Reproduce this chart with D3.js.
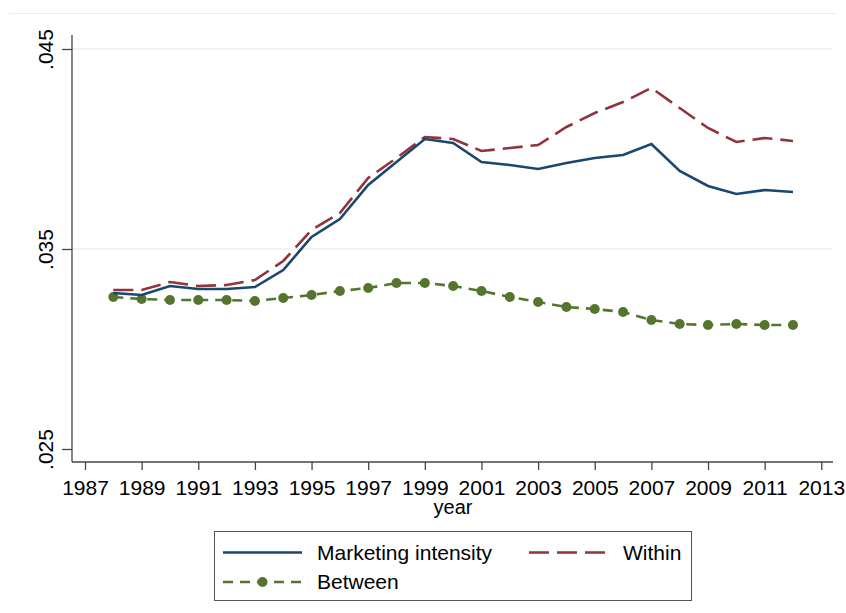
<!DOCTYPE html>
<html>
<head>
<meta charset="utf-8">
<script src="https://cdn.jsdelivr.net/npm/d3@7"></script>
<style>
  body { margin: 0; background: #fff; }
  text { font-family: "Liberation Sans", Arial, sans-serif; fill: #000; }
</style>
</head>
<body>
<svg id="chart" width="846" height="613"></svg>
<script>
// data
var years = d3.range(1988, 2013);
var marketing = [0.0328, 0.0327, 0.03315, 0.0330, 0.0330, 0.0331, 0.03395, 0.0356, 0.0365, 0.0382,
                 0.03935, 0.0405, 0.0403, 0.03935, 0.0392, 0.0390, 0.0393, 0.03955, 0.0397, 0.04025,
                 0.0389, 0.03815, 0.03775, 0.03795, 0.03785];
var within = [0.03295, 0.03295, 0.03335, 0.03315, 0.0332, 0.03345, 0.0344, 0.03595, 0.0368, 0.03855,
              0.03955, 0.0406, 0.0405, 0.0399, 0.04005, 0.0402, 0.0411, 0.0418, 0.04235, 0.04305,
              0.04205, 0.04105, 0.04035, 0.04055, 0.0404];
var between = [0.0326, 0.0325, 0.03245, 0.03245, 0.03245, 0.0324, 0.03255, 0.0327, 0.0329, 0.03305,
               0.0333, 0.0333, 0.03315, 0.0329, 0.0326, 0.03235, 0.0321, 0.0320, 0.03185, 0.03145,
               0.03125, 0.0312, 0.03125, 0.0312, 0.0312];
var xTicks = d3.range(1987, 2014, 2);
var yTicks = [0.025, 0.035, 0.045];
var yTickLabels = [".025", ".035", ".045"];

var svg = d3.select("#chart");

var x = d3.scaleLinear().domain([1987, 2013]).range([85, 821.3]);
var y = d3.scaleLinear().domain([0.025, 0.045]).range([449, 49]);

var left = 72, right = 833, bottom = 462;

// outer frame line at top
svg.append("line")
    .attr("x1", 9).attr("x2", 837).attr("y1", 13.5).attr("y2", 13.5)
    .attr("stroke", "#e9eff1").attr("stroke-width", 1);

// gridlines
svg.selectAll(".grid")
    .data(yTicks.slice(1))
  .enter().append("line")
    .attr("class", "grid")
    .attr("x1", left).attr("x2", right)
    .attr("y1", function(d) { return y(d); })
    .attr("y2", function(d) { return y(d); })
    .attr("stroke", "#eaf2f3").attr("stroke-width", 1.3);

// y axis
var yAxis = svg.append("g")
    .attr("transform", "translate(" + left + ",0)")
    .call(d3.axisLeft(y).tickValues(yTicks).tickSize(10)
      .tickFormat(function(d, i) { return yTickLabels[i]; }));
yAxis.select(".domain").attr("d", "M0,35V" + bottom).attr("stroke", "#444").attr("stroke-width", 1.3);
yAxis.selectAll(".tick line").attr("stroke", "#444").attr("stroke-width", 1.3);
yAxis.selectAll(".tick text")
    .attr("x", 0).attr("y", 0).attr("dy", 0)
    .attr("text-anchor", "middle")
    .attr("transform", "translate(-19,0) rotate(-90)")
    .style("font-size", "21px")
    .style("font-family", "'Liberation Sans', Arial, sans-serif");

// x axis
var xAxis = svg.append("g")
    .attr("transform", "translate(0," + bottom + ")")
    .call(d3.axisBottom(x).tickValues(xTicks).tickSize(8).tickFormat(d3.format("d")));
xAxis.select(".domain").attr("d", "M" + left + ",0H" + right).attr("stroke", "#444").attr("stroke-width", 1.3);
xAxis.selectAll(".tick line").attr("stroke", "#444").attr("stroke-width", 1.3);
xAxis.selectAll(".tick text")
    .attr("y", 33).attr("dy", 0)
    .style("font-size", "21px")
    .style("font-family", "'Liberation Sans', Arial, sans-serif");

svg.append("text")
    .attr("x", 453).attr("y", 514)
    .attr("text-anchor", "middle")
    .style("font-size", "20px")
    .text("year");

// lines
var line = d3.line()
    .x(function(d) { return x(d[0]); })
    .y(function(d) { return y(d[1]); });

function pairs(vals) {
  return years.map(function(yr, i) { return [yr, vals[i]]; });
}

svg.append("path")
    .datum(pairs(between))
    .attr("d", line)
    .attr("fill", "none")
    .attr("stroke", "#55752f").attr("stroke-width", 2.6)
    .attr("stroke-dasharray", "10,7");

svg.selectAll(".dot")
    .data(pairs(between))
  .enter().append("circle")
    .attr("class", "dot")
    .attr("cx", function(d) { return x(d[0]); })
    .attr("cy", function(d) { return y(d[1]); })
    .attr("r", 5)
    .attr("fill", "#55752f");

svg.append("path")
    .datum(pairs(within))
    .attr("d", line)
    .attr("fill", "none")
    .attr("stroke", "#90353b").attr("stroke-width", 2.6)
    .attr("stroke-dasharray", "20,8");

svg.append("path")
    .datum(pairs(marketing))
    .attr("d", line)
    .attr("fill", "none")
    .attr("stroke", "#1a476f").attr("stroke-width", 2.6);

// legend
var legend = svg.append("g");
legend.append("rect")
    .attr("x", 214.5).attr("y", 531.5).attr("width", 477).attr("height", 69)
    .attr("fill", "#fff").attr("stroke", "#555").attr("stroke-width", 1);

var items = [
  {label: "Marketing intensity", color: "#1a476f", dash: null, dot: false, x: 223, y: 552.5},
  {label: "Within", color: "#90353b", dash: "20,8", dot: false, x: 529, y: 552.5},
  {label: "Between", color: "#55752f", dash: "10,7", dot: true, x: 223, y: 582}
];

items.forEach(function(it) {
  var g = legend.append("g");
  g.append("line")
      .attr("x1", it.x).attr("x2", it.x + 79)
      .attr("y1", it.y).attr("y2", it.y)
      .attr("stroke", it.color).attr("stroke-width", 2.6)
      .attr("stroke-dasharray", it.dash);
  if (it.dot) {
    g.append("circle")
        .attr("cx", it.x + 39.5).attr("cy", it.y).attr("r", 5)
        .attr("fill", it.color);
  }
  g.append("text")
      .attr("x", it.x + 94).attr("y", it.y + 7)
      .style("font-size", "21px")
      .text(it.label);
});
</script>
</body>
</html>
